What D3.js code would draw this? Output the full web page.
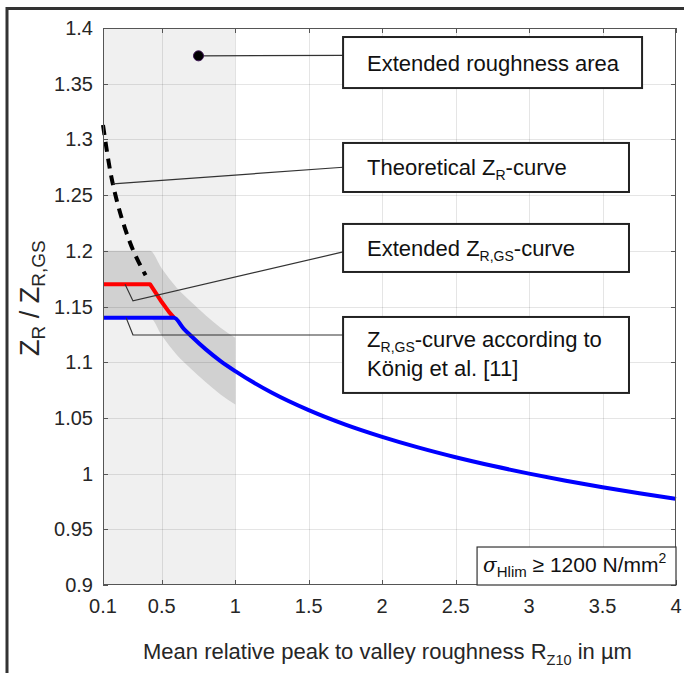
<!DOCTYPE html>
<html><head><meta charset="utf-8">
<script src="https://cdn.jsdelivr.net/npm/d3@7"></script>
<style>body{margin:0;background:#fff}svg{display:block}</style>
</head><body><svg id="c" width="684" height="673"></svg>
<script>
// ---------- data ----------
const xTicks = [0.1, 0.5, 1, 1.5, 2, 2.5, 3, 3.5, 4];
const yTicks = [0.9, 0.95, 1, 1.05, 1.1, 1.15, 1.2, 1.25, 1.3, 1.35, 1.4];
const yTickLabels = ["0.9","0.95","1","1.05","1.1","1.15","1.2","1.25","1.3","1.35","1.4"];

// theoretical Z_R curve (dashed)
const theoX = [0.1, 0.15, 0.2, 0.25, 0.3, 0.35, 0.39];
const theoY = [1.313, 1.271, 1.242, 1.220, 1.202, 1.188, 1.178];
// extended Z_R,GS curve (red)
const redX = [0.1, 0.42, 0.45, 0.5, 0.55, 0.583];
const redY = [1.17, 1.17, 1.164, 1.154, 1.145, 1.14];
// Z_R,GS curve according to König et al. (blue)
const blueX = [0.1, 0.583, 0.65, 0.7, 0.8, 0.9, 1, 1.25, 1.5, 1.75, 2, 2.25, 2.5, 2.75, 3, 3.25, 3.5, 3.75, 4];
const blueY = [1.14, 1.14, 1.130, 1.1235, 1.1115, 1.101, 1.092, 1.0726, 1.057, 1.044, 1.033, 1.0233, 1.0147, 1.007, 1.0, 0.9936, 0.9877, 0.9823, 0.9773];
// scatter band
const bandX = [0.1, 0.42, 0.5, 0.6, 0.7, 0.8, 0.9, 1];
const bandHi = [1.2, 1.2, 1.184, 1.167, 1.154, 1.142, 1.131, 1.122];
const bandLo = [1.14, 1.14, 1.124, 1.107, 1.094, 1.082, 1.071, 1.062];
// extended roughness area
const areaX = [0.1, 1];
const dotPoint = [0.75, 1.375];

// ---------- layout ----------
const W = 684, H = 673;
const L = 103, R = 676, T = 28, B = 585;
const FONT = "'Liberation Sans', Arial, sans-serif";

const svg = d3.select("#c");
const x = d3.scaleLinear().domain([0.1, 4]).range([L, R]);
const y = d3.scaleLinear().domain([0.9, 1.4]).range([B, T]);

svg.append("rect").attr("width", W).attr("height", H).attr("fill", "#fff");

// light gray area
svg.append("rect")
  .attr("x", x(areaX[0])).attr("y", T)
  .attr("width", x(areaX[1]) - x(areaX[0])).attr("height", B - T)
  .attr("fill", "#f0f0f0");

// band
const bandArea = d3.area()
  .x((d, i) => x(bandX[i]))
  .y0((d, i) => y(bandLo[i]))
  .y1((d, i) => y(bandHi[i]))
  .curve(d3.curveMonotoneX);
svg.append("path").datum(bandX).attr("d", bandArea).attr("fill", "#d1d1d1");

// grid
const grid = svg.append("g").attr("stroke", "#000").attr("stroke-opacity", 0.1).attr("stroke-width", 1);
grid.selectAll("line.v").data(xTicks.slice(1, -1)).join("line")
  .attr("x1", d => Math.round(x(d)) + 0.5).attr("x2", d => Math.round(x(d)) + 0.5)
  .attr("y1", T).attr("y2", B);
grid.selectAll("line.h").data(yTicks.slice(1, -1)).join("line")
  .attr("y1", d => Math.round(y(d)) + 0.5).attr("y2", d => Math.round(y(d)) + 0.5)
  .attr("x1", L).attr("x2", R);

// curves
const line = (xs, ys) => d3.line().x((d, i) => x(xs[i])).y((d, i) => y(ys[i])).curve(d3.curveMonotoneX)(xs);
svg.append("path").attr("d", line(theoX, theoY)).attr("fill", "none")
  .attr("stroke", "#000").attr("stroke-width", 4).attr("stroke-dasharray", "10,7");
svg.append("path").attr("d", d3.line().x((d, i) => x(redX[i])).y((d, i) => y(redY[i]))(redX)).attr("fill", "none")
  .attr("stroke", "#ff0000").attr("stroke-width", 4).attr("stroke-linejoin", "round");
svg.append("path").attr("d", line(blueX, blueY)).attr("fill", "none")
  .attr("stroke", "#0000ff").attr("stroke-width", 4).attr("stroke-linejoin", "round");

// axes box with inward ticks
const ax = svg.append("g").attr("stroke", "#555").attr("stroke-width", 1).attr("fill", "none");
ax.append("rect").attr("x", L + 0.5).attr("y", T + 0.5).attr("width", R - L - 1).attr("height", B - T - 1);
const tl = 5;
xTicks.forEach(v => {
  const px = Math.round(x(v)) + 0.5;
  ax.append("line").attr("x1", px).attr("x2", px).attr("y1", B).attr("y2", B - tl);
  ax.append("line").attr("x1", px).attr("x2", px).attr("y1", T).attr("y2", T + tl);
});
yTicks.forEach(v => {
  const py = Math.round(y(v)) + 0.5;
  ax.append("line").attr("y1", py).attr("y2", py).attr("x1", L).attr("x2", L + tl);
  ax.append("line").attr("y1", py).attr("y2", py).attr("x1", R).attr("x2", R - tl);
});

// tick labels
const tf = 20;
svg.append("g").selectAll("text").data(xTicks).join("text")
  .attr("x", d => x(d)).attr("y", 613).attr("text-anchor", "middle")
  .attr("font-family", FONT).attr("font-size", tf).attr("fill", "#262626").text(d => d);
svg.append("g").selectAll("text").data(yTicks).join("text")
  .attr("x", 93).attr("y", d => y(d) + 7).attr("text-anchor", "end")
  .attr("font-family", FONT).attr("font-size", tf).attr("fill", "#262626").text((d, i) => yTickLabels[i]);

// rich text helper
function rich(sel, parts, fs, subfs, shift) {
  parts.forEach(p => {
    if (p.sub) {
      sel.append("tspan").attr("dy", shift).attr("font-size", subfs).text(p.t);
    } else if (p.after) {
      sel.append("tspan").attr("dy", -shift).attr("font-size", fs).text(p.t);
    } else {
      sel.append("tspan").attr("font-size", fs).text(p.t);
    }
  });
}

// axis labels
const xl = svg.append("text").attr("x", 143).attr("y", 659)
  .attr("font-family", FONT).attr("fill", "#262626");
rich(xl, [{t: "Mean relative peak to valley roughness R"}, {t: "Z10", sub: true}, {t: " in µm", after: true}], 22, 14.5, 6);

const yl = svg.append("text").attr("transform", "translate(39,356) rotate(-90)")
  .attr("font-family", FONT).attr("fill", "#262626");
rich(yl, [{t: "Z"}, {t: "R", sub: true}, {t: " / Z", after: true}, {t: "R,GS", sub: true}], 27, 19, 6);

// leaders
const lead = svg.append("g").attr("stroke", "#333").attr("stroke-width", 1.2).attr("fill", "none");
const leaders = [
  [[dotPoint[0], dotPoint[1]], [1.734, 1.3755]],
  [[0.168, 1.26], [1.734, 1.275]],
  [[0.25, 1.17], [0.304, 1.155], [1.734, 1.199]],
  [[0.257, 1.14], [0.304, 1.1244], [1.734, 1.1244]]
];
leaders.forEach(pts => lead.append("path").attr("d", d3.line().x(d => x(d[0])).y(d => y(d[1]))(pts)));

svg.append("circle").attr("cx", x(dotPoint[0])).attr("cy", y(dotPoint[1])).attr("r", 5)
  .attr("fill", "#000").attr("stroke", "#3a1050").attr("stroke-width", 1);

// text boxes (data coords)
const boxes = [
  {x0: 1.734, x1: 3.769, y0: 1.3919, y1: 1.3461, lines: [[{t: "Extended roughness area"}]], base: [71]},
  {x0: 1.734, x1: 3.680, y0: 1.2968, y1: 1.2528, lines: [[{t: "Theoretical Z"}, {t: "R", sub: true}, {t: "-curve", after: true}]], base: [175]},
  {x0: 1.734, x1: 3.680, y0: 1.2241, y1: 1.1810, lines: [[{t: "Extended Z"}, {t: "R,GS", sub: true}, {t: "-curve", after: true}]], base: [256]},
  {x0: 1.734, x1: 3.680, y0: 1.1406, y1: 1.0724, lines: [[{t: "Z"}, {t: "R,GS", sub: true}, {t: "-curve according to", after: true}], [{t: "König et al. [11]"}]], base: [347, 376]}
];
boxes.forEach(b => {
  svg.append("rect").attr("x", x(b.x0)).attr("y", y(b.y0))
    .attr("width", x(b.x1) - x(b.x0)).attr("height", y(b.y1) - y(b.y0))
    .attr("fill", "#fff").attr("stroke", "#222").attr("stroke-width", 2);
  b.lines.forEach((ln, i) => {
    const t = svg.append("text").attr("x", x(b.x0) + 24).attr("y", b.base[i])
      .attr("font-family", FONT).attr("fill", "#111");
    rich(t, ln, 22, 14, 5);
  });
});

// sigma box
svg.append("rect").attr("x", x(2.646)).attr("y", y(0.9341))
  .attr("width", x(4) - x(2.646)).attr("height", y(0.9) - y(0.9341))
  .attr("fill", "#fff").attr("stroke", "#333").attr("stroke-width", 1.2);
const st = svg.append("text").attr("x", x(2.646) + 6).attr("y", 572)
  .attr("font-family", FONT).attr("fill", "#111");
st.append("tspan").attr("font-size", 20).attr("font-style", "italic").attr("font-family", "'DejaVu Serif', serif").text("σ");
st.append("tspan").attr("font-size", 15).attr("dy", 5).text("Hlim");
st.append("tspan").attr("font-size", 21).attr("dy", -5).text(" ≥ 1200 N/mm");
st.append("tspan").attr("font-size", 14).attr("dy", -9).text("2");

// outer frame
svg.append("path").attr("d", `M7,${H} V8.5 H${W}`).attr("fill", "none").attr("stroke", "#333").attr("stroke-width", 3);
</script></body></html>
